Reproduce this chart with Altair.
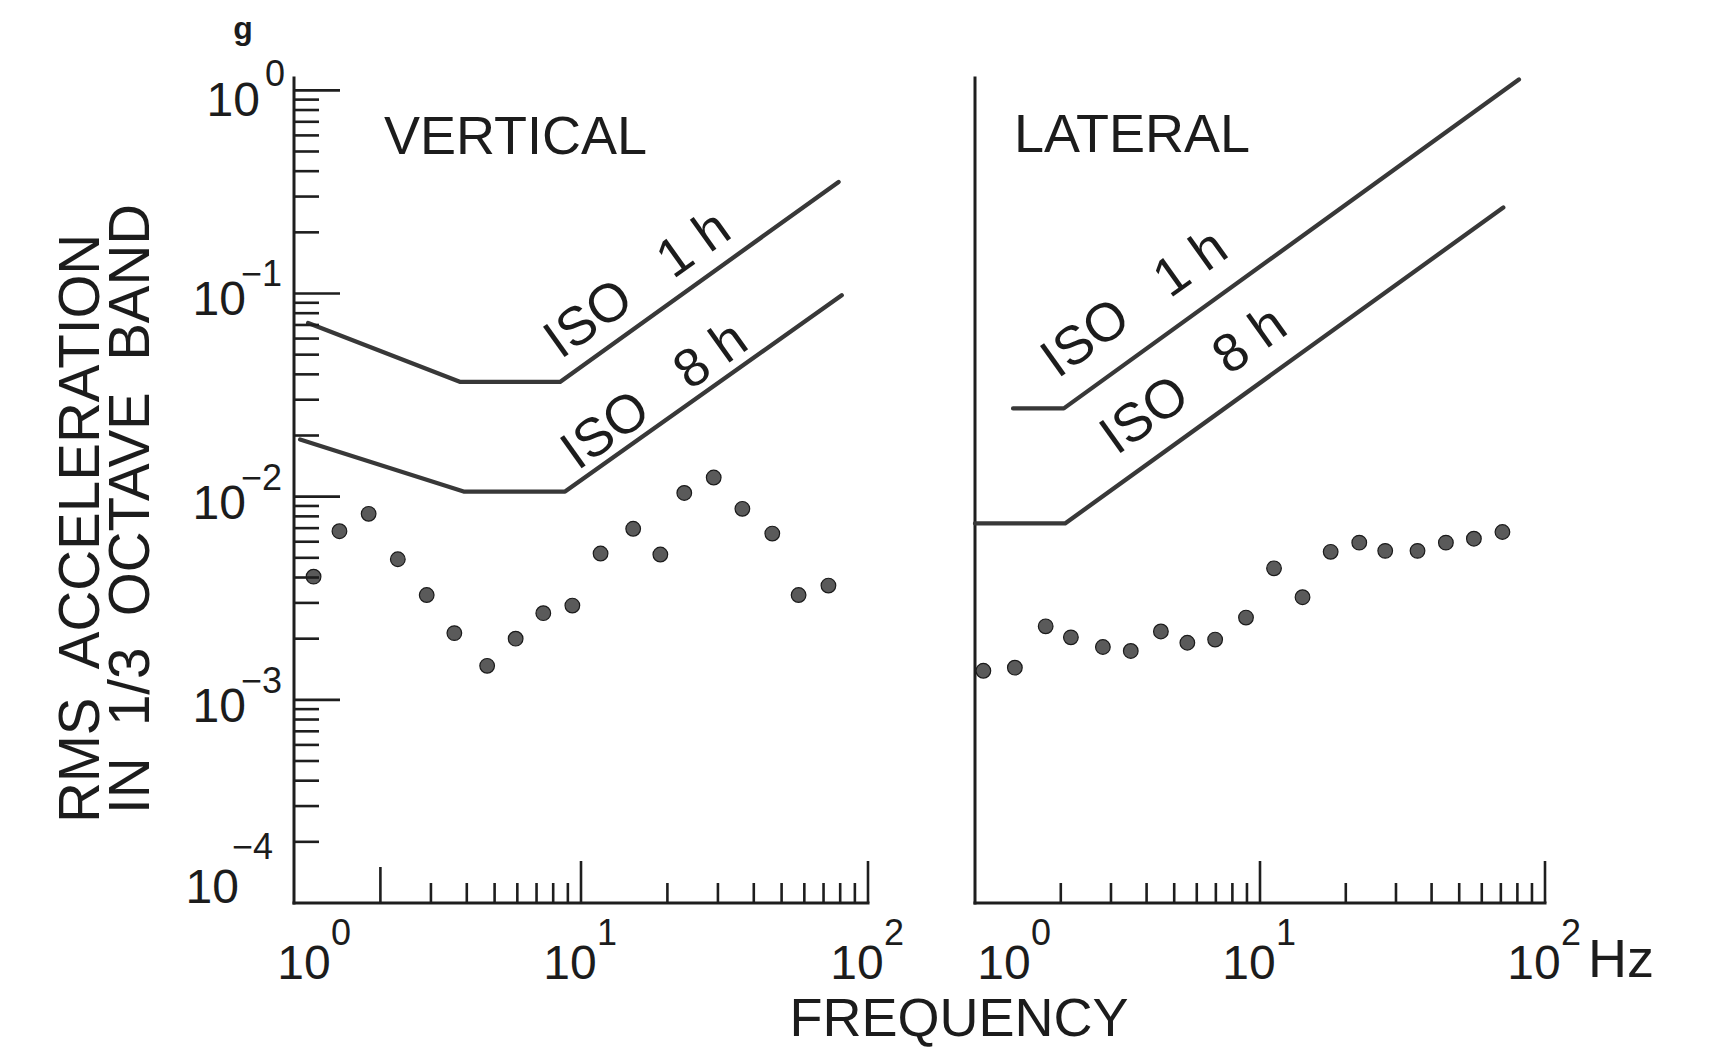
import altair as alt
import pandas as pd

# Measured 1/3-octave spectra: band frequency (Hz) and RMS acceleration (g)
vert_freq = [1.17, 1.44, 1.82, 2.30, 2.90, 3.62, 4.71, 5.92, 7.39, 9.33,
             11.7, 15.2, 18.9, 22.9, 29.0, 36.5, 46.4, 57.3, 72.8]
vert_acc = [0.00404, 0.00676, 0.00823, 0.00492, 0.00328, 0.00213, 0.00147,
            0.00200, 0.00267, 0.00291, 0.00525, 0.00695, 0.00519, 0.01043,
            0.01242, 0.00871, 0.00658, 0.00328, 0.00365]
lat_freq = [1.07, 1.38, 1.77, 2.17, 2.81, 3.52, 4.49, 5.56, 6.96, 8.93,
            11.2, 14.1, 17.7, 22.3, 27.5, 35.7, 44.9, 56.3, 70.9]
lat_acc = [0.00139, 0.00144, 0.00230, 0.00203, 0.00182, 0.00174, 0.00217,
           0.00191, 0.00198, 0.00254, 0.00444, 0.00320, 0.00535, 0.00594,
           0.00541, 0.00541, 0.00594, 0.00621, 0.00670]

# ISO comfort boundaries, corner points of each curve
vert_iso_1h_freq = [1.12, 3.8, 8.45, 79.0]
vert_iso_1h_acc = [0.0716, 0.0367, 0.0367, 0.354]
vert_iso_8h_freq = [1.05, 3.9, 8.8, 81.0]
vert_iso_8h_acc = [0.0191, 0.0106, 0.0106, 0.098]
lat_iso_1h_freq = [1.36, 2.05, 81.0]
lat_iso_1h_acc = [0.0272, 0.0272, 1.13]
lat_iso_8h_freq = [1.0, 2.07, 71.4]
lat_iso_8h_acc = [0.00738, 0.00738, 0.265]

# curve labels and where they sit (Hz, g); NBSP keeps the wide spacing
iso_labels = ["ISO\u00a0\u00a0 1\u00a0h", "ISO\u00a0\u00a0 8\u00a0h"]
vert_label_freq = [15.8, 18.1]
vert_label_acc = [0.110, 0.0312]
lat_label_freq = [3.64, 5.87]
lat_label_acc = [0.0885, 0.037]

# axis ticks and labels
x_major = [10, 100]
x_minor = [2, 3, 4, 5, 6, 7, 8, 9, 20, 30, 40, 50, 60, 70, 80, 90]
x_long_minor = [2]
y_major = [1.0, 0.1, 0.01, 0.001]
y_minor = [k * 10.0 ** e for e in (-4, -3, -2, -1) for k in range(2, 10)]
x_decades = [1, 10, 100]
x_exponents = ["0", "1", "2"]
y_decades = [1.0, 0.1, 0.01, 0.001, 0.0001]
y_exponents = ["0", "\u22121", "\u22122", "\u22123", "\u22124"]

# ---- layout (pixels) ----
W_LEFT = 574
RIGHT_X0 = 681
W = 1251
H = 825
FONT = "Liberation Sans"
INK = "#1c1c1c"
AXIS = "#1e1e1e"
LINE = "#383838"
DOT = "#5a5a5a"
SUP = 36

y_scale = alt.Scale(type="log", domain=[1e-4, 1.15], nice=False)
x_left = alt.Scale(type="log", domain=[1, 100], range=[0, W_LEFT], nice=False)
x_right = alt.Scale(type="log", domain=[1, 100], range=[RIGHT_X0, W], nice=False)


def X(field, scale):
    return alt.X(field, type="quantitative", scale=scale, axis=None)


def Y(field):
    return alt.Y(field, type="quantitative", scale=y_scale, axis=None)


def curves(pairs):
    rows = []
    for name, fs, accs in pairs:
        for i, (f, a) in enumerate(zip(fs, accs)):
            rows.append({"curve": name, "i": i, "f": f, "a": a})
    return pd.DataFrame(rows)


def panel(xs, freq, acc, iso_df, lab_f, lab_a, long_minor):
    layers = []
    # axis frame: left and bottom
    frame = pd.DataFrame({"x1": [1, 1], "x2": [1, 100],
                          "y1": [1e-4, 1e-4], "y2": [1.15, 1e-4]})
    layers.append(alt.Chart(frame).mark_rule(color=AXIS, strokeWidth=3, strokeCap="square").encode(
        x=X("x1", xs), x2="x2:Q", y=Y("y1"), y2="y2:Q"))
    # inward x ticks
    for vals, length in ((x_major, 42), ([v for v in x_minor if v not in long_minor], 20), (long_minor, 36)):
        if not vals:
            continue
        layers.append(alt.Chart(pd.DataFrame({"f": vals})).mark_rule(color=AXIS, strokeWidth=2.6).encode(
            x=X("f", xs), y=alt.value(H), y2=alt.value(H - length)))
    # ISO curves
    layers.append(alt.Chart(iso_df).mark_line(color=LINE, strokeWidth=4.3, strokeCap="round",
                                              strokeJoin="round").encode(
        x=X("f", xs), y=Y("a"), detail="curve:N", order="i:Q"))
    lab = pd.DataFrame({"t": iso_labels, "f": lab_f, "a": lab_a})
    layers.append(alt.Chart(lab).mark_text(font=FONT, fontSize=54, angle=324.5, align="center",
                                           baseline="middle", color=INK).encode(
        x=X("f", xs), y=Y("a"), text="t:N"))
    # measured points
    pts = pd.DataFrame({"f": freq, "a": acc})
    layers.append(alt.Chart(pts).mark_circle(size=215, color=DOT, stroke="#1a1a1a", strokeWidth=1.2,
                                             opacity=1).encode(x=X("f", xs), y=Y("a")))
    return layers


vert_iso = curves([("1h", vert_iso_1h_freq, vert_iso_1h_acc), ("8h", vert_iso_8h_freq, vert_iso_8h_acc)])
lat_iso = curves([("1h", lat_iso_1h_freq, lat_iso_1h_acc), ("8h", lat_iso_8h_freq, lat_iso_8h_acc)])

layers = []
layers += panel(x_left, vert_freq, vert_acc, vert_iso, vert_label_freq, vert_label_acc, x_long_minor)
layers += panel(x_right, lat_freq, lat_acc, lat_iso, lat_label_freq, lat_label_acc, [])

# inward y ticks on the left panel
layers.append(alt.Chart(pd.DataFrame({"a": y_major})).mark_rule(color=AXIS, strokeWidth=2.6).encode(
    y=Y("a"), x=alt.value(0), x2=alt.value(46)))
layers.append(alt.Chart(pd.DataFrame({"a": y_minor})).mark_rule(color=AXIS, strokeWidth=2.6).encode(
    y=Y("a"), x=alt.value(0), x2=alt.value(25)))

# y tick labels: "10" with a raised exponent
ylab = pd.DataFrame({"a": y_decades, "e": y_exponents})
base = dict(font=FONT, color=INK, baseline="middle")
for sel, x10, xsup, dy10, dysup in (
        (ylab.iloc[[0]], -34, -29, 12, -15),
        (ylab.iloc[1:4], -48, -53, 8, -18),
        (ylab.iloc[[4]], -55, -62, -14, -55)):
    layers.append(alt.Chart(sel).mark_text(fontSize=48, align="right", dy=dy10, **base).encode(
        y=Y("a"), x=alt.value(x10), text=alt.value("10")))
    layers.append(alt.Chart(sel).mark_text(fontSize=SUP, align="left", dy=dysup, **base).encode(
        y=Y("a"), x=alt.value(xsup), text="e:N"))

# x tick labels for both panels
xlab = pd.DataFrame({"f": x_decades, "e": x_exponents})
for xs, first_dx in ((x_left, 10), (x_right, 29)):
    for sel, dx in ((xlab.iloc[[0]], first_dx), (xlab.iloc[1:], -11)):
        layers.append(alt.Chart(sel).mark_text(fontSize=48, align="center", dx=dx, **base).encode(
            x=X("f", xs), y=alt.value(H + 62), text=alt.value("10")))
        layers.append(alt.Chart(sel).mark_text(fontSize=SUP, align="left", dx=dx + 27, **base).encode(
            x=X("f", xs), y=alt.value(H + 31), text="e:N"))


def note(text, x, y, size, **kw):
    return alt.Chart(pd.DataFrame({"t": [text]})).mark_text(
        font=FONT, fontSize=size, color=INK, baseline="middle", **kw).encode(
        x=alt.value(x), y=alt.value(y), text="t:N")


layers += [
    note("VERTICAL", 90, 60, 54, align="left"),
    note("LATERAL", 720, 58, 54, align="left"),
    note("g", -51, -49, 32, align="center", fontWeight="bold"),
    note("FREQUENCY", 665, 942, 54, align="center"),
    note("Hz", 1327, 883, 54, align="center"),
    note("RMS\u00a0 ACCELERATION", -212, 745, 56.5, align="left", angle=270),
    note("IN\u00a0 1/3\u00a0 OCTAVE\u00a0 BAND", -162, 736, 56.5, align="left", angle=270),
]

chart = alt.layer(*layers).resolve_scale(x="independent").properties(
    width=W, height=H,
    autosize=alt.AutoSizeParams(type="none"),
    padding={"left": 294, "top": 78, "right": 175, "bottom": 146},
    background="white",
).configure_view(stroke=None)

chart.save("out.html", embed_options={"renderer": "svg", "actions": False})
